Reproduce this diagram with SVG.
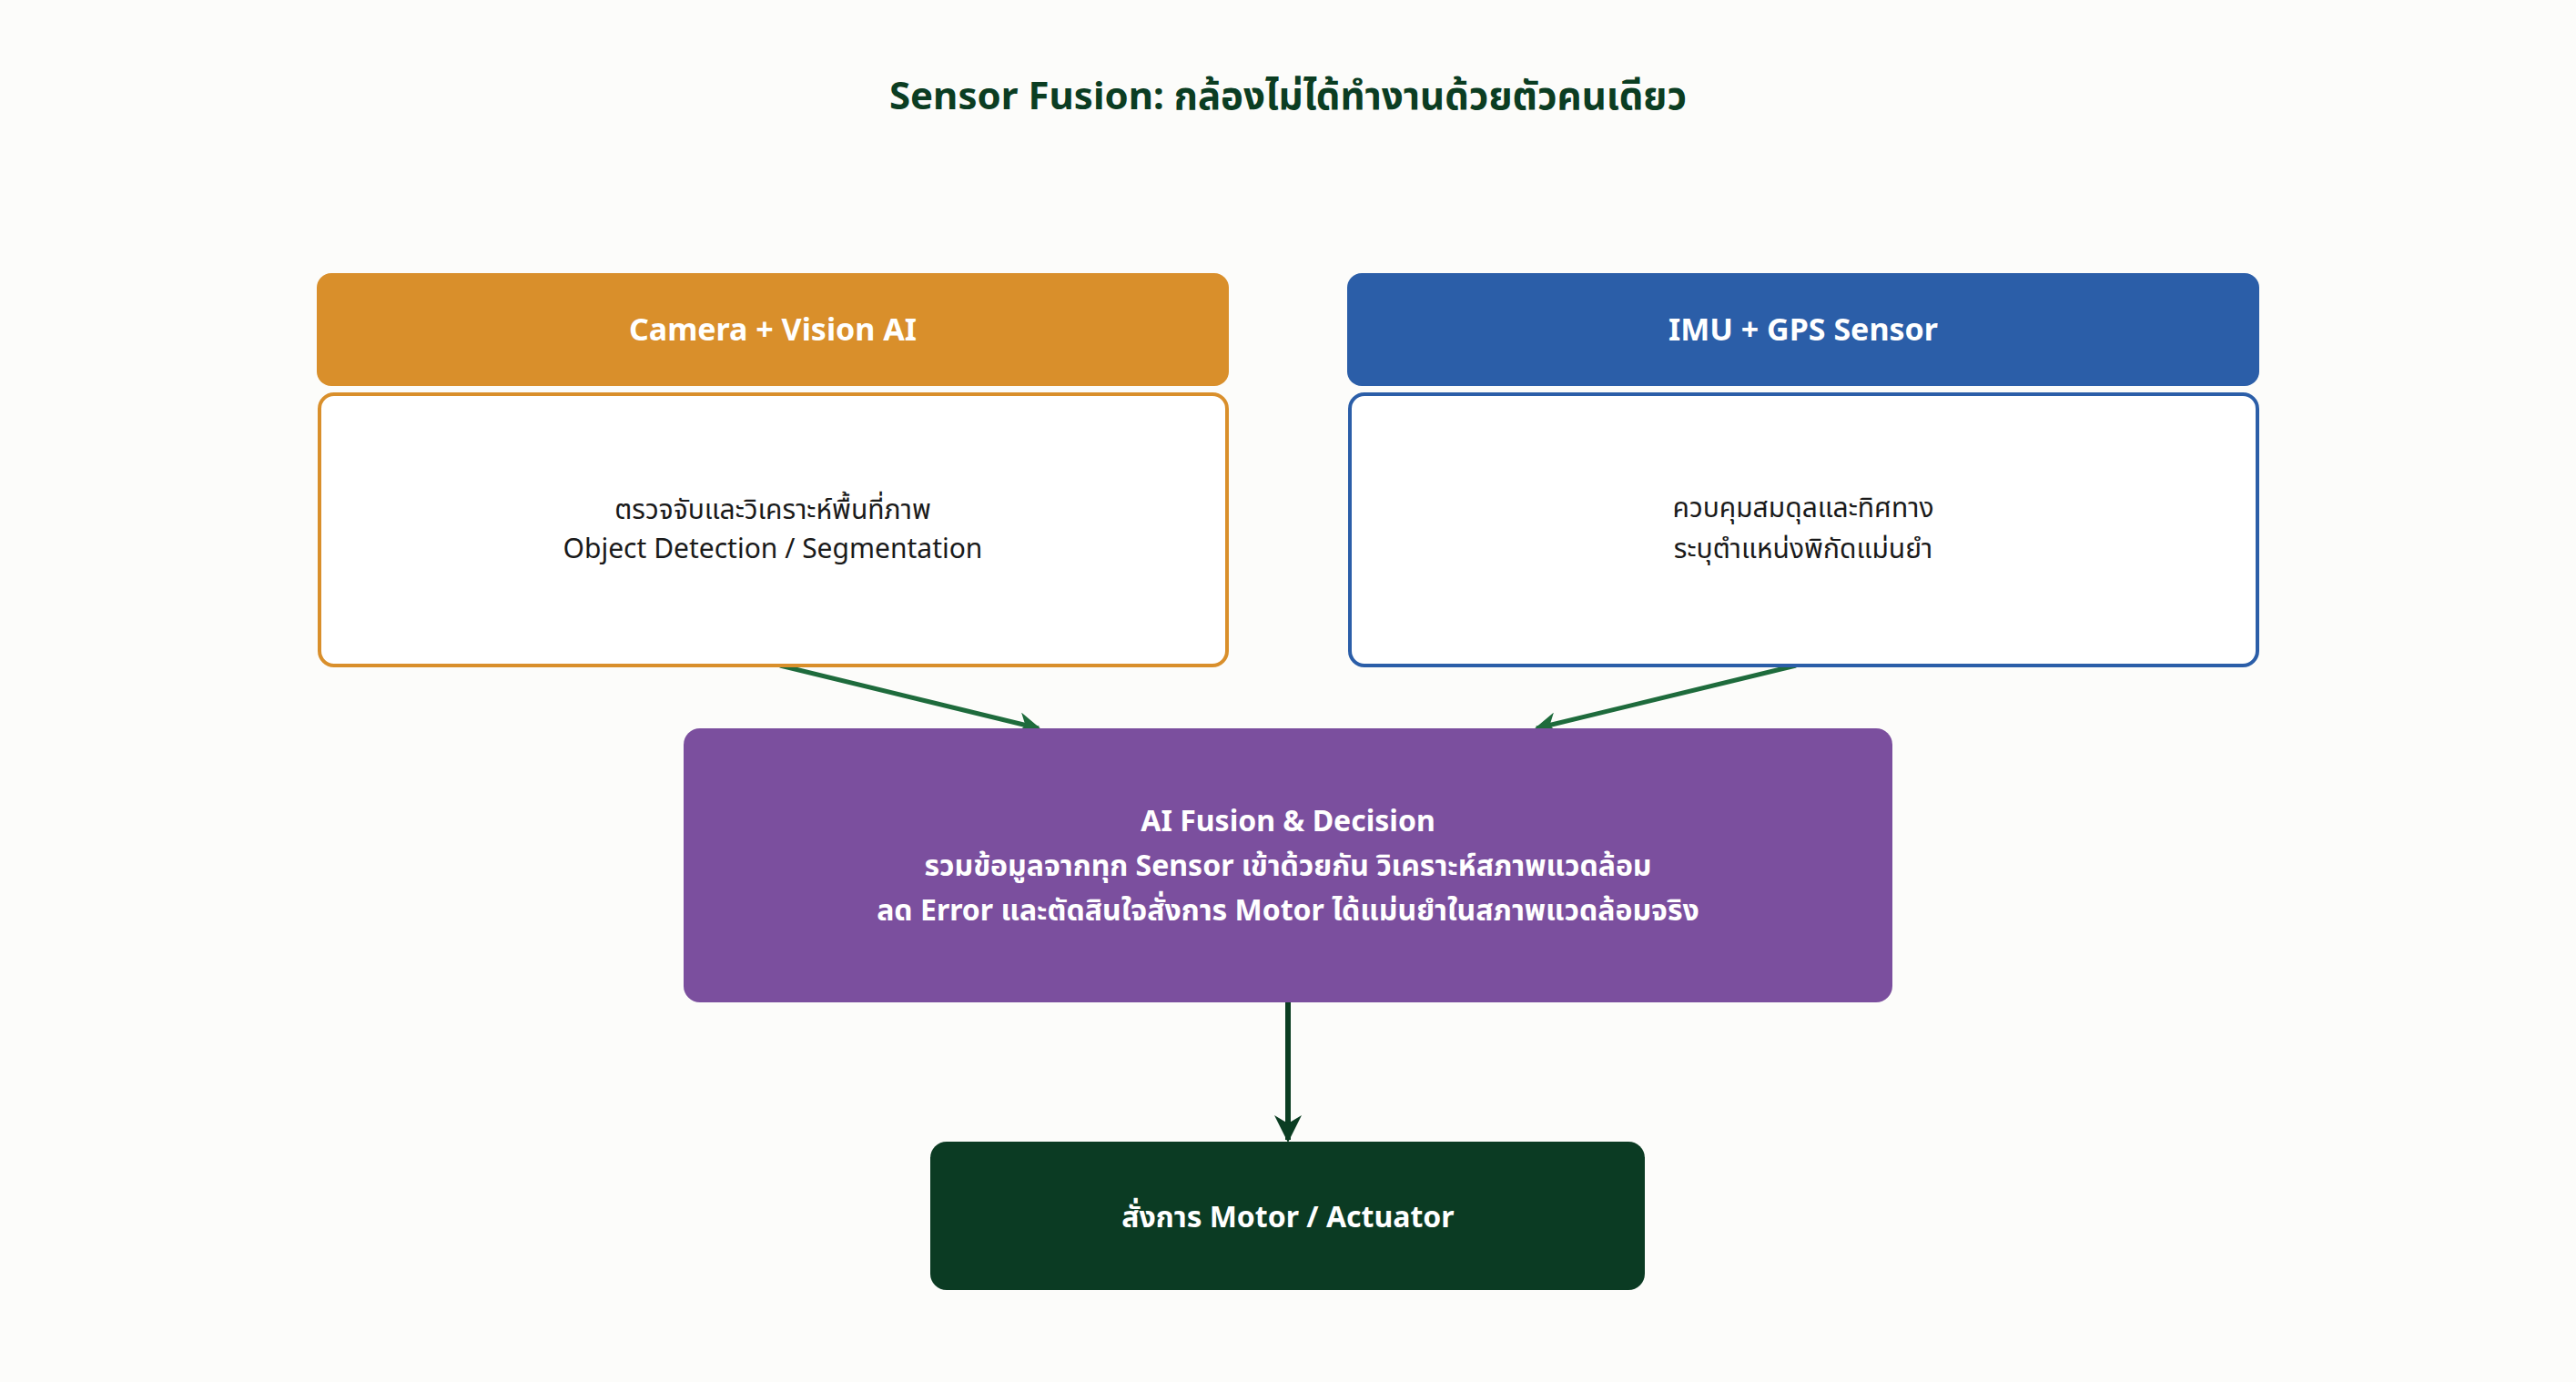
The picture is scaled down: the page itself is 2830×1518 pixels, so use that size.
<svg xmlns="http://www.w3.org/2000/svg" width="2830" height="1518" viewBox="0 0 2830 1518">
<style>
text{font-family:"Noto Sans","Noto Sans Thai","DejaVu Sans",sans-serif;text-anchor:middle;dominant-baseline:central}
.hd{font-size:34px;font-weight:bold;fill:#fff}
.bd{font-size:30px;fill:#1a1a1a}
.pt{font-size:32px;font-weight:bold;fill:#fff}
.c{fill:none;stroke:#1e6b3c;stroke-width:5}
</style>
<defs>
<marker id="ag" viewBox="0 0 10 10" refX="9" refY="5" markerWidth="5" markerHeight="5" orient="auto" markerUnits="strokeWidth"><path d="M0,0 L10,5 L0,10 L3,5 z" fill="#1e6b3c"/></marker>
<marker id="ad" viewBox="0 0 10 10" refX="9" refY="5" markerWidth="5" markerHeight="5" orient="auto" markerUnits="strokeWidth"><path d="M0,0 L10,5 L0,10 L3,5 z" fill="#0b3d22"/></marker>
</defs>
<rect width="2830" height="1518" fill="#fcfcfa"/>
<text x="1415" y="103" style="font-size:42px;font-weight:bold;fill:#0b3d22">Sensor Fusion: กล้องไม่ได้ทำงานด้วยตัวคนเดียว</text>
<g id="connectors">
<line class="c" x1="857" y1="731" x2="1141" y2="800" marker-end="url(#ag)"/>
<line class="c" x1="1973" y1="731" x2="1688" y2="800" marker-end="url(#ag)"/>
<line class="c" style="stroke:#0b3d22;stroke-width:6" x1="1415" y1="1101" x2="1415" y2="1252" marker-end="url(#ad)"/>
</g>
<g id="camera">
<rect x="348" y="300" width="1002" height="124" rx="16" fill="#d98f2b"/>
<text class="hd" x="849" y="361">Camera + Vision AI</text>
<rect x="351" y="433" width="997" height="298" rx="16" fill="#fff" stroke="#d98f2b" stroke-width="4"/>
<text class="bd" x="849" y="558">ตรวจจับและวิเคราะห์พื้นที่ภาพ</text>
<text class="bd" x="849" y="601">Object Detection / Segmentation</text>
</g>
<g id="imu">
<rect x="1480" y="300" width="1002" height="124" rx="16" fill="#2b5ea8"/>
<text class="hd" x="1981" y="361">IMU + GPS Sensor</text>
<rect x="1483" y="433" width="997" height="298" rx="16" fill="#fff" stroke="#2b5ea8" stroke-width="4"/>
<text class="bd" x="1981" y="556">ควบคุมสมดุลและทิศทาง</text>
<text class="bd" x="1981" y="601">ระบุตำแหน่งพิกัดแม่นยำ</text>
</g>
<g id="fusion">
<rect x="751" y="800" width="1328" height="301" rx="18" fill="#7b4f9e"/>
<text class="pt" x="1415" y="900">AI Fusion &amp; Decision</text>
<text class="pt" x="1415" y="949">รวมข้อมูลจากทุก Sensor เข้าด้วยกัน วิเคราะห์สภาพแวดล้อม</text>
<text class="pt" x="1415" y="998">ลด Error และตัดสินใจสั่งการ Motor ได้แม่นยำในสภาพแวดล้อมจริง</text>
</g>
<g id="motor">
<rect x="1022" y="1254" width="785" height="163" rx="18" fill="#0b3b23"/>
<text class="pt" x="1415" y="1335">สั่งการ Motor / Actuator</text>
</g>
</svg>
